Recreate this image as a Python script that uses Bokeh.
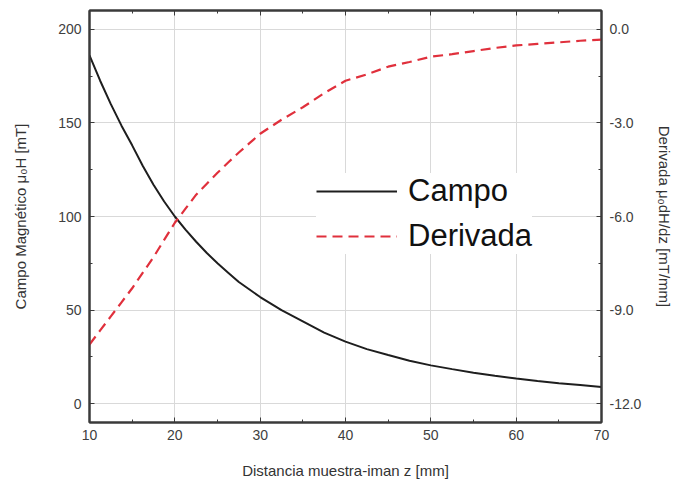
from bokeh.plotting import figure
from bokeh.models import (Range1d, LinearAxis, FixedTicker, PrintfTickFormatter,
                          CustomJSTickFormatter, Legend, LegendItem, ColumnDataSource)
from bokeh.embed import file_html
from bokeh.resources import INLINE

# Distance sample-magnet z [mm]
z = [10, 11.25, 12.5, 13.75, 15, 16.25, 17.5, 18.75, 20, 21.25, 22.5, 23.75,
     25, 26.25, 27.5, 28.75, 30, 32.5, 35, 37.5, 40, 42.5, 45, 47.5, 50,
     52.5, 55, 57.5, 60, 62.5, 65, 67.5, 70]
# Magnetic field mu0 H [mT]
campo = [186, 172.5, 160, 148.5, 138, 127, 117, 108, 100, 93, 86.5, 80.5,
         75, 70, 65, 61, 57, 50, 44, 38, 33.2, 29.2, 26, 23, 20.5,
         18.5, 16.6, 15, 13.5, 12.2, 11, 10, 9]
# Derivative mu0 dH/dz [mT/mm]
derivada = [-10.1, -9.65, -9.2, -8.75, -8.3, -7.8, -7.3, -6.75, -6.2, -5.75,
            -5.3, -4.95, -4.6, -4.27, -3.95, -3.65, -3.35, -2.9, -2.5, -2.05,
            -1.65, -1.45, -1.2, -1.05, -0.88, -0.8, -0.7, -0.6, -0.52, -0.47,
            -0.42, -0.37, -0.33]

x_ticks = [10, 20, 30, 40, 50, 60, 70]
left_ticks = [0, 50, 100, 150, 200]
right_ticks = [-12, -9, -6, -3, 0]

FONT = "Liberation Sans"
FRAME = "#3a3a3a"
GRID = "#d9d9d9"
TICKTXT = "#404040"

src = ColumnDataSource(dict(z=z, campo=campo, derivada=derivada))

p = figure(width=684, height=490, output_backend="svg", toolbar_location=None,
           x_range=Range1d(10, 70), y_range=Range1d(-10, 210),
           min_border_left=89, min_border_right=83, min_border_top=10,
           min_border_bottom=68, x_axis_location=None, y_axis_location=None)
p.background_fill_color = "white"
p.border_fill_color = "white"
p.outline_line_color = FRAME
p.outline_line_width = 2

p.extra_y_ranges = {"der": Range1d(-12.6, 0.6)}

def style(ax):
    ax.axis_line_color = FRAME
    ax.axis_line_width = 2
    ax.major_tick_in = 5
    ax.major_tick_out = 0
    ax.minor_tick_in = 3
    ax.minor_tick_out = 0
    ax.major_tick_line_color = FRAME
    ax.minor_tick_line_color = FRAME
    ax.major_tick_line_width = 1
    ax.minor_tick_line_width = 1
    ax.major_label_text_font = FONT
    ax.major_label_text_font_size = "14px"
    ax.major_label_text_color = TICKTXT
    ax.axis_label_text_font = FONT
    ax.axis_label_text_font_size = "15px"
    ax.axis_label_text_font_style = "normal"
    ax.axis_label_text_color = "#333333"

xminor = [15, 25, 35, 45, 55, 65]
xb = LinearAxis(ticker=FixedTicker(ticks=x_ticks, minor_ticks=xminor),
                axis_label="Distancia muestra-iman z [mm]")
style(xb)
xb.major_label_standoff = 7
xb.axis_label_standoff = 19
p.add_layout(xb, "below")

xt = LinearAxis(ticker=FixedTicker(ticks=x_ticks, minor_ticks=xminor),
                formatter=CustomJSTickFormatter(code="return ''"))
style(xt)
xt.major_label_standoff = 0
p.add_layout(xt, "above")

yl = LinearAxis(ticker=FixedTicker(ticks=left_ticks, minor_ticks=[25, 75, 125, 175]),
                axis_label="Campo Magnético μ₀H [mT]")
style(yl)
yl.major_label_standoff = 8
yl.axis_label_standoff = 26
p.add_layout(yl, "left")

yr = LinearAxis(y_range_name="der",
                ticker=FixedTicker(ticks=right_ticks, minor_ticks=[-10.5, -7.5, -4.5, -1.5]),
                formatter=PrintfTickFormatter(format="%.1f"),
                axis_label="Derivada μ₀dH/dz [mT/mm]")
style(yr)
yr.major_label_standoff = 8
yr.axis_label_standoff = 12
p.add_layout(yr, "right")

p.xgrid.ticker = FixedTicker(ticks=x_ticks)
p.ygrid.ticker = FixedTicker(ticks=left_ticks)
p.xgrid.grid_line_color = GRID
p.ygrid.grid_line_color = GRID
p.xgrid.grid_line_width = 1
p.ygrid.grid_line_width = 1

r1 = p.line("z", "campo", source=src, line_color="#1e1e1e", line_width=2)
r2 = p.line("z", "derivada", source=src, y_range_name="der",
            line_color="#e0303c", line_width=2.2, line_dash="10 6")

legend = Legend(items=[LegendItem(label="Campo", renderers=[r1]),
                       LegendItem(label="Derivada", renderers=[r2])],
                location=(227, 168))
legend.label_text_font = FONT
legend.label_text_font_size = "31px"
legend.label_text_color = "#111111"
legend.glyph_width = 81
legend.glyph_height = 32
legend.label_height = 32
legend.label_standoff = 11
legend.spacing = 9
legend.padding = 5
legend.margin = 0
legend.border_line_color = None
legend.background_fill_color = "white"
legend.background_fill_alpha = 1
p.add_layout(legend, "center")

open("out.html", "w").write(file_html(p, INLINE))
